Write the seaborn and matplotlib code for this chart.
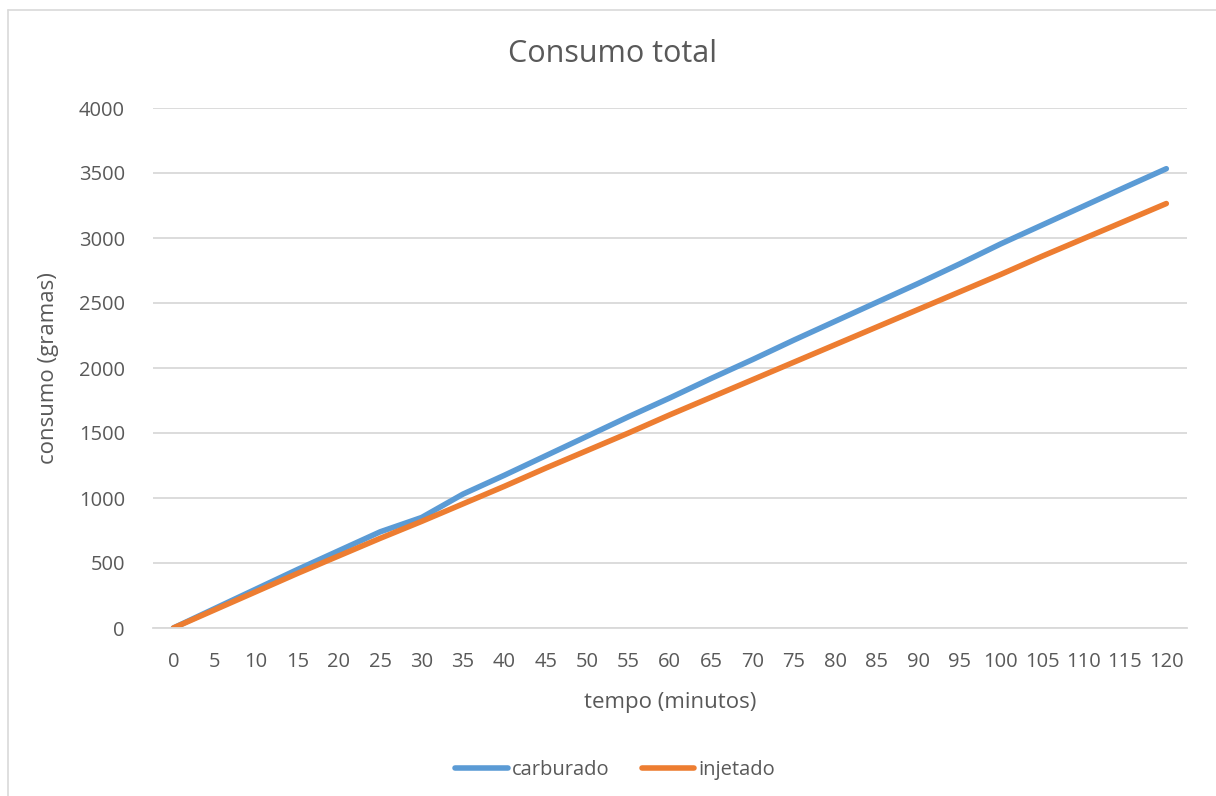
import matplotlib
matplotlib.use("Agg")
import matplotlib.pyplot as plt
from matplotlib.lines import Line2D
import seaborn as sns
import pandas as pd

# Tempo (minutos) e consumo acumulado (gramas)
tempo = [0, 5, 10, 15, 20, 25, 30, 35, 40, 45, 50, 55, 60,
         65, 70, 75, 80, 85, 90, 95, 100, 105, 110, 115, 120]
carburado = [0, 150, 300, 450, 595, 740, 850, 1030, 1175, 1325, 1475, 1625, 1770,
             1920, 2065, 2215, 2360, 2505, 2650, 2800, 2955, 3100, 3245, 3390, 3533]
injetado = [0, 140, 280, 420, 555, 690, 820, 955, 1090, 1230, 1365, 1500, 1640,
            1775, 1910, 2045, 2180, 2315, 2450, 2585, 2720, 2860, 2995, 3130, 3265]
series_names = ["carburado", "injetado"]
y_ticks = [0, 500, 1000, 1500, 2000, 2500, 3000, 3500, 4000]

sns.set_theme(style="white")
plt.rcParams["font.family"] = ["Open Sans", "DejaVu Sans"]
text_color = "#595959"
grid_color = "#D9D9D9"
palette = {"carburado": "#5B9BD5", "injetado": "#ED7D31"}

df = pd.DataFrame({
    "tempo": tempo * 2,
    "consumo": carburado + injetado,
    "serie": [series_names[0]] * len(tempo) + [series_names[1]] * len(tempo),
})

W, H = 1216, 796
fig = plt.figure(figsize=(W / 100, H / 100), dpi=100)
fig.patch.set_facecolor("white")

# chart area border (top and left edges)
fig.add_artist(Line2D([8 / W, 1.0], [1 - 10 / H, 1 - 10 / H], transform=fig.transFigure,
                      color=grid_color, linewidth=1.2))
fig.add_artist(Line2D([8 / W, 8 / W], [0.0, 1 - 10 / H], transform=fig.transFigure,
                      color=grid_color, linewidth=1.2))

left, right = 152.7 / W, 1187 / W
bottom, top = 1 - 628 / H, 1 - 108 / H
ax = fig.add_axes([left, bottom, right - left, top - bottom])

sns.lineplot(data=df, x="tempo", y="consumo", hue="serie", palette=palette,
             linewidth=4, ax=ax, legend=False, solid_capstyle="round")

ax.set_xlim(-2.5, 122.5)
ax.set_ylim(0, 4000)
ax.set_yticks(y_ticks)
ax.set_xticks(tempo)
ax.set_xticklabels([str(t) for t in tempo])
ax.yaxis.grid(True, color=grid_color, linewidth=1.3)
ax.xaxis.grid(False)
ax.set_axisbelow(True)
for s in ax.spines.values():
    s.set_visible(False)
ax.spines["bottom"].set_visible(True)
ax.spines["bottom"].set_color(grid_color)
ax.spines["bottom"].set_linewidth(1.3)
ax.tick_params(axis="both", length=0, labelsize=14.5, labelcolor=text_color)
ax.tick_params(axis="y", pad=20)
ax.tick_params(axis="x", pad=17)

ax.set_xlabel("tempo (minutos)", fontsize=16, color=text_color, labelpad=15)
ax.set_ylabel("consumo (gramas)", fontsize=16, color=text_color, labelpad=14)

fig.text(612 / W, 1 - 54 / H, "Consumo total", ha="center", va="center",
         fontsize=22, color=text_color)

# legend below the plot
handles = [Line2D([0], [0], color=palette[n], linewidth=4, solid_capstyle="round")
           for n in series_names]
fig.legend(handles, series_names, loc="center", bbox_to_anchor=(615 / W, 1 - 770 / H),
           ncol=2, frameon=False, fontsize=14.5, labelcolor=text_color,
           handlelength=2.6, handletextpad=0.2, columnspacing=1.6)

fig.savefig("out.png", dpi=100, facecolor="white")
